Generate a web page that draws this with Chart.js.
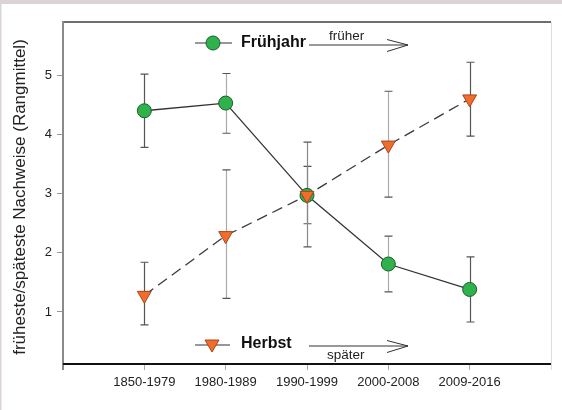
<!DOCTYPE html>
<html>
<head>
<meta charset="utf-8">
<script src="https://cdn.jsdelivr.net/npm/chart.js@4/dist/chart.umd.min.js"></script>
<style>
html,body{margin:0;padding:0;background:#fff;}
#wrap{width:562px;height:410px;position:relative;}
</style>
</head>
<body>
<div id="wrap"><canvas id="c" width="562" height="410"></canvas></div>
<script>
// ---- data ----
const categories = ['1850-1979', '1980-1989', '1990-1999', '2000-2008', '2009-2016'];
const fruehjahr      = [4.40, 4.53, 2.97, 1.81, 1.38];
const fruehjahrHigh  = [5.02, 5.03, 3.46, 2.28, 1.93];
const fruehjahrLow   = [3.78, 4.02, 2.49, 1.34, 0.83];
const herbst         = [1.28, 2.29, 2.97, 3.82, 4.60];
const herbstHigh     = [1.84, 3.40, 3.87, 4.73, 5.22];
const herbstLow      = [0.78, 1.23, 2.10, 2.94, 3.97];
const yTicks = [1, 2, 3, 4, 5];
const yTitle = 'früheste/späteste Nachweise (Rangmittel)';

const FONT = '"Liberation Sans", Arial, Helvetica, sans-serif';
const toPts = arr => arr.map((v, i) => ({x: i + 1, y: v}));

const barColors = ['#555', '#aaa', '#888', '#aaa', '#555'];

const overlay = {
  id: 'overlay',
  beforeDraw(chart) {
    const ctx = chart.ctx;
    ctx.save();
    ctx.fillStyle = '#fff';
    ctx.fillRect(0, 0, chart.width, chart.height);
    ctx.fillStyle = '#dcd3d6';
    ctx.fillRect(0, 0, chart.width, 4);
    ctx.fillRect(0, 0, 1.5, chart.height);
    // y axis title
    ctx.translate(20, 197);
    ctx.rotate(-Math.PI / 2);
    ctx.fillStyle = '#222';
    ctx.font = '17px ' + FONT;
    ctx.textAlign = 'center';
    ctx.textBaseline = 'middle';
    ctx.fillText(yTitle, 0, 0);
    ctx.restore();
  },
  beforeDatasetsDraw(chart) {
    const {ctx, chartArea: a, scales: {x, y}} = chart;
    ctx.save();
    // frame
    ctx.strokeStyle = '#ddd'; ctx.lineWidth = 1;
    ctx.beginPath(); ctx.moveTo(a.right + 0.5, a.top); ctx.lineTo(a.right + 0.5, a.bottom + 6); ctx.stroke();
    ctx.strokeStyle = '#6e6e6e'; ctx.lineWidth = 2;
    ctx.beginPath(); ctx.moveTo(a.left, a.top); ctx.lineTo(a.right, a.top); ctx.stroke();
    ctx.strokeStyle = '#8a8a8a'; ctx.lineWidth = 2;
    ctx.beginPath(); ctx.moveTo(a.left, a.top - 1); ctx.lineTo(a.left, a.bottom + 6); ctx.stroke();
    ctx.strokeStyle = '#111'; ctx.lineWidth = 2;
    ctx.beginPath(); ctx.moveTo(a.left, a.bottom); ctx.lineTo(a.right, a.bottom); ctx.stroke();
    // error bars
    const bars = (hi, lo) => {
      hi.forEach((h, i) => {
        const px = Math.round(x.getPixelForValue(i + 1)) + 0.5;
        const yt = y.getPixelForValue(h), yb = y.getPixelForValue(lo[i]);
        ctx.lineWidth = 1.2;
        ctx.strokeStyle = barColors[i];
        ctx.beginPath(); ctx.moveTo(px, yt); ctx.lineTo(px, yb); ctx.stroke();
        ctx.strokeStyle = '#555';
        ctx.beginPath();
        ctx.moveTo(px - 4, yt); ctx.lineTo(px + 4, yt);
        ctx.moveTo(px - 4, yb); ctx.lineTo(px + 4, yb);
        ctx.stroke();
      });
    };
    bars(fruehjahrHigh, fruehjahrLow);
    bars(herbstHigh, herbstLow);
    ctx.restore();
  },
  afterDatasetsDraw(chart) {
    const ctx = chart.ctx;
    ctx.save();
    const arrow = (x1, x2, yy) => {
      ctx.strokeStyle = '#333'; ctx.lineWidth = 1;
      ctx.beginPath(); ctx.moveTo(x1, yy); ctx.lineTo(x2, yy); ctx.stroke();
      ctx.beginPath(); ctx.moveTo(x2 - 21, yy - 5.5); ctx.lineTo(x2, yy); ctx.lineTo(x2 - 21, yy + 6.5); ctx.stroke();
    };
    // Frühjahr legend
    ctx.strokeStyle = '#333'; ctx.lineWidth = 1.2;
    ctx.beginPath(); ctx.moveTo(195, 43); ctx.lineTo(232, 43); ctx.stroke();
    ctx.fillStyle = '#2fb14b'; ctx.strokeStyle = '#1d5f2a'; ctx.lineWidth = 1;
    ctx.beginPath(); ctx.arc(213, 43, 7, 0, Math.PI * 2); ctx.fill(); ctx.stroke();
    ctx.fillStyle = '#111'; ctx.textBaseline = 'middle'; ctx.textAlign = 'left';
    ctx.font = 'bold 16px ' + FONT;
    ctx.fillText('Frühjahr', 241, 43);
    arrow(309, 408, 45);
    ctx.font = '13.5px ' + FONT; ctx.fillStyle = '#222';
    ctx.fillText('früher', 329, 36);
    // Herbst legend
    ctx.strokeStyle = '#333'; ctx.lineWidth = 1.2;
    ctx.beginPath(); ctx.moveTo(195, 345); ctx.lineTo(230, 345); ctx.stroke();
    ctx.fillStyle = '#f26d2c'; ctx.strokeStyle = '#a8451a'; ctx.lineWidth = 1;
    ctx.beginPath(); ctx.moveTo(205, 340); ctx.lineTo(219, 340); ctx.lineTo(212, 352); ctx.closePath(); ctx.fill(); ctx.stroke();
    ctx.fillStyle = '#111'; ctx.font = 'bold 16px ' + FONT;
    ctx.fillText('Herbst', 241, 344);
    arrow(309, 408, 346);
    ctx.font = '13.5px ' + FONT; ctx.fillStyle = '#222';
    ctx.fillText('später', 327, 355);
    ctx.restore();
  }
};

new Chart(document.getElementById('c'), {
  type: 'line',
  data: {
    datasets: [
      {
        label: 'Frühjahr',
        data: toPts(fruehjahr),
        borderColor: '#333', borderWidth: 1.3,
        pointStyle: 'circle', pointRadius: 7, pointHoverRadius: 7,
        pointBackgroundColor: '#2fb14b', pointBorderColor: '#1d5f2a', pointBorderWidth: 1,
        tension: 0, order: 2
      },
      {
        label: 'Herbst',
        data: toPts(herbst),
        borderColor: '#3a3a3a', borderWidth: 1.3, borderDash: [11, 6],
        pointStyle: 'triangle', pointRotation: 180, pointRadius: 8, pointHoverRadius: 8,
        pointBackgroundColor: '#f26d2c', pointBorderColor: '#a8451a', pointBorderWidth: 1,
        tension: 0, order: 1
      }
    ]
  },
  options: {
    responsive: false,
    animation: false,
    layout: {padding: {left: 0, top: 22, right: 11, bottom: 0}},
    plugins: {legend: {display: false}, tooltip: {enabled: false}},
    scales: {
      x: {
        type: 'linear', min: 0, max: 6,
        afterBuildTicks: s => { s.ticks = categories.map((c, i) => ({value: i + 1})); },
        afterFit: s => { s.height = 46; },
        border: {display: false},
        grid: {drawOnChartArea: false, tickLength: 6, tickColor: '#aaa', tickWidth: 1},
        ticks: {
          callback: v => categories[v - 1] || '',
          color: '#222', padding: 5, maxRotation: 0, autoSkip: false,
          font: {family: FONT, size: 13}
        }
      },
      y: {
        type: 'linear', min: 0.12, max: 5.9,
        afterBuildTicks: s => { s.ticks = yTicks.map(v => ({value: v})); },
        afterFit: s => { s.width = 63; },
        border: {display: false},
        grid: {drawOnChartArea: false, tickLength: 6, tickColor: '#999', tickWidth: 1},
        ticks: {color: '#222', padding: 5, font: {family: FONT, size: 13}}
      }
    }
  },
  plugins: [overlay]
});
</script>
</body>
</html>
